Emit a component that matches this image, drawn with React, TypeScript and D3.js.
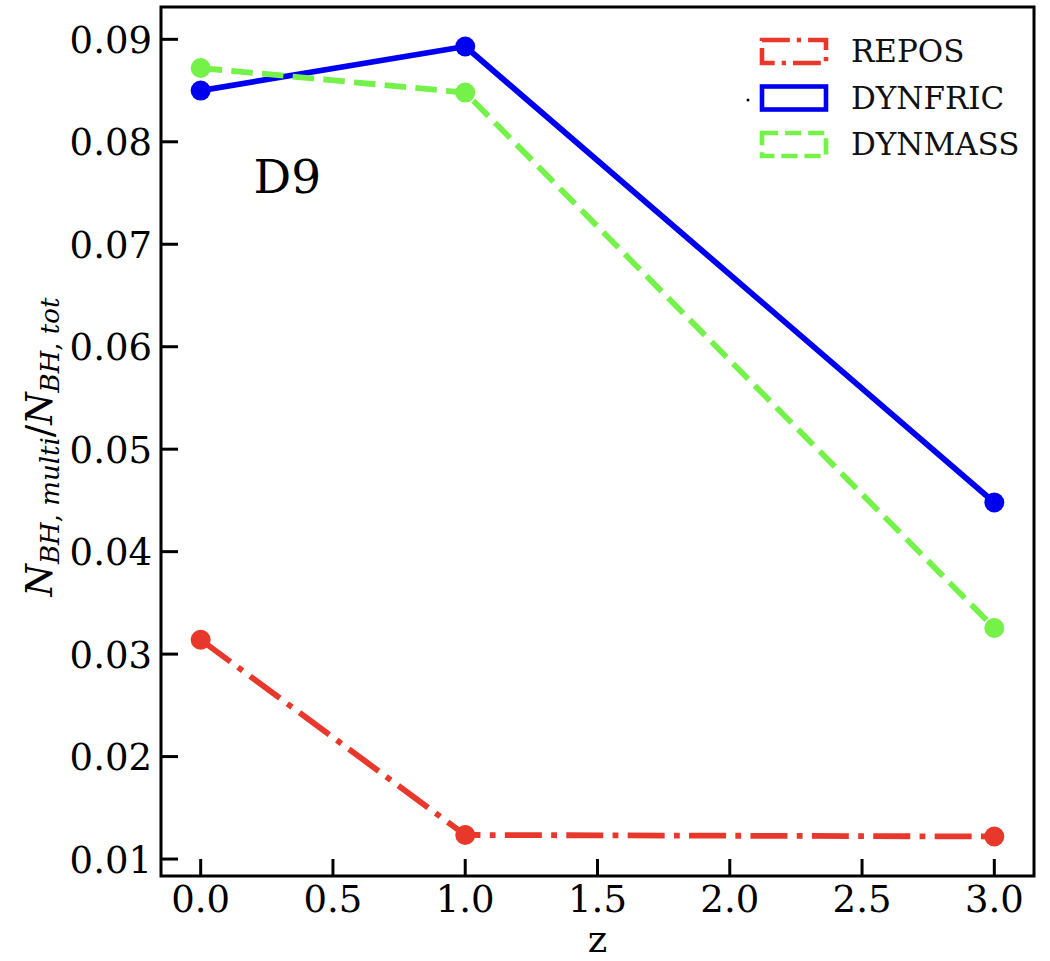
import React from "react";
import * as d3 from "d3";

const zValues = [0, 1, 3];
const reposValues = [0.0314, 0.01235, 0.0122];
const dynfricValues = [0.085, 0.0893, 0.0448];
const dynmassValues = [0.0872, 0.0848, 0.03255];
const xTicks = [0, 0.5, 1, 1.5, 2, 2.5, 3];
const yTicks = [0.01, 0.02, 0.03, 0.04, 0.05, 0.06, 0.07, 0.08, 0.09];
const seriesNames = ["REPOS", "DYNFRIC", "DYNMASS"];

const W = 1050;
const H = 961;
const L = 161, R = 1034, T = 7, B = 876;
const FONT = "'DejaVu Serif', serif";

const series = [
  { name: seriesNames[0], values: reposValues, color: "#e8382b", dash: "37 9.3 5.8 9.3" },
  { name: seriesNames[1], values: dynfricValues, color: "#0000f0", dash: "" },
  { name: seriesNames[2], values: dynmassValues, color: "#74f24a", dash: "21.5 9.3" },
];

export default function App() {
  const all = [...reposValues, ...dynfricValues, ...dynmassValues];
  const ymin = d3.min(all)!;
  const ymax = d3.max(all)!;
  const ym = (ymax - ymin) * 0.05;
  const x = d3.scaleLinear().domain([-0.15, 3.15]).range([L, R]);
  const y = d3.scaleLinear().domain([ymin - ym, ymax + ym]).range([B, T]);
  const line = d3
    .line<number>()
    .x((_, i) => x(zValues[i]))
    .y((d) => y(d));

  const legX = 760, legY0 = 38, legStep = 46.5, legW = 68, legH = 27;

  return (
    <svg
      width={W}
      height={H}
      style={{ position: "absolute", left: 0, top: 0, background: "#fff" }}
      fontFamily={FONT}
    >
      <rect x={0} y={0} width={W} height={H} fill="#fff" />
      {series.map((s) => (
        <g key={s.name}>
          <path
            d={line(s.values) || ""}
            fill="none"
            stroke={s.color}
            strokeWidth={5.8}
            strokeDasharray={s.dash || undefined}
            strokeLinecap="butt"
            strokeLinejoin="round"
          />
          {s.values.map((v, i) => (
            <circle key={i} cx={x(zValues[i])} cy={y(v)} r={10} fill={s.color} />
          ))}
        </g>
      ))}
      {/* spines */}
      <rect x={L} y={T} width={R - L} height={B - T} fill="none" stroke="#000" strokeWidth={3} />
      {/* x ticks */}
      {xTicks.map((t) => (
        <g key={t}>
          <line x1={x(t)} x2={x(t)} y1={B} y2={B - 17} stroke="#000" strokeWidth={3} />
          <text x={x(t)} y={912} fontSize={37} textAnchor="middle" fill="#000">
            {t.toFixed(1)}
          </text>
        </g>
      ))}
      {yTicks.map((t) => (
        <g key={t}>
          <line x1={L} x2={L + 17} y1={y(t)} y2={y(t)} stroke="#000" strokeWidth={3} />
          <text x={152} y={y(t) + 13.5} fontSize={37} textAnchor="end" fill="#000">
            {t.toFixed(2)}
          </text>
        </g>
      ))}
      {/* axis labels */}
      <text x={(L + R) / 2} y={952} fontSize={37} textAnchor="middle" fill="#000">
        z
      </text>
      <text
        transform={`translate(52, ${447}) rotate(-90)`}
        textAnchor="middle"
        fill="#000"
        fontSize={37}
        fontStyle="italic"
      >
        <tspan>N</tspan>
        <tspan fontSize={26} dy={7}>BH</tspan>
        <tspan fontSize={26} fontStyle="normal">, </tspan>
        <tspan fontSize={26}>multi</tspan>
        <tspan dy={-7} fontStyle="normal">/</tspan>
        <tspan>N</tspan>
        <tspan fontSize={26} dy={7}>BH</tspan>
        <tspan fontSize={26} fontStyle="normal">, </tspan>
        <tspan fontSize={26}>tot</tspan>
      </text>
      {/* annotation */}
      <text x={x(0.2)} y={y(0.075)} fontSize={47} fill="#000">
        D9
      </text>
      {/* legend */}
      <circle cx={748} cy={100} r={1.5} fill="#000" />
      {series.map((s, i) => (
        <g key={s.name}>
          <rect
            x={legX + 2}
            y={legY0 + i * legStep + 2}
            width={legW - 4}
            height={legH - 4}
            fill="none"
            stroke={s.color}
            strokeWidth={4.6}
            strokeDasharray={s.dash ? s.dash.split(" ").map((v) => (+v * 0.75).toFixed(1)).join(" ") : undefined}
          />
          <text x={851} y={legY0 + i * legStep + 24} fontSize={31} fill="#111">
            {s.name}
          </text>
        </g>
      ))}
    </svg>
  );
}
